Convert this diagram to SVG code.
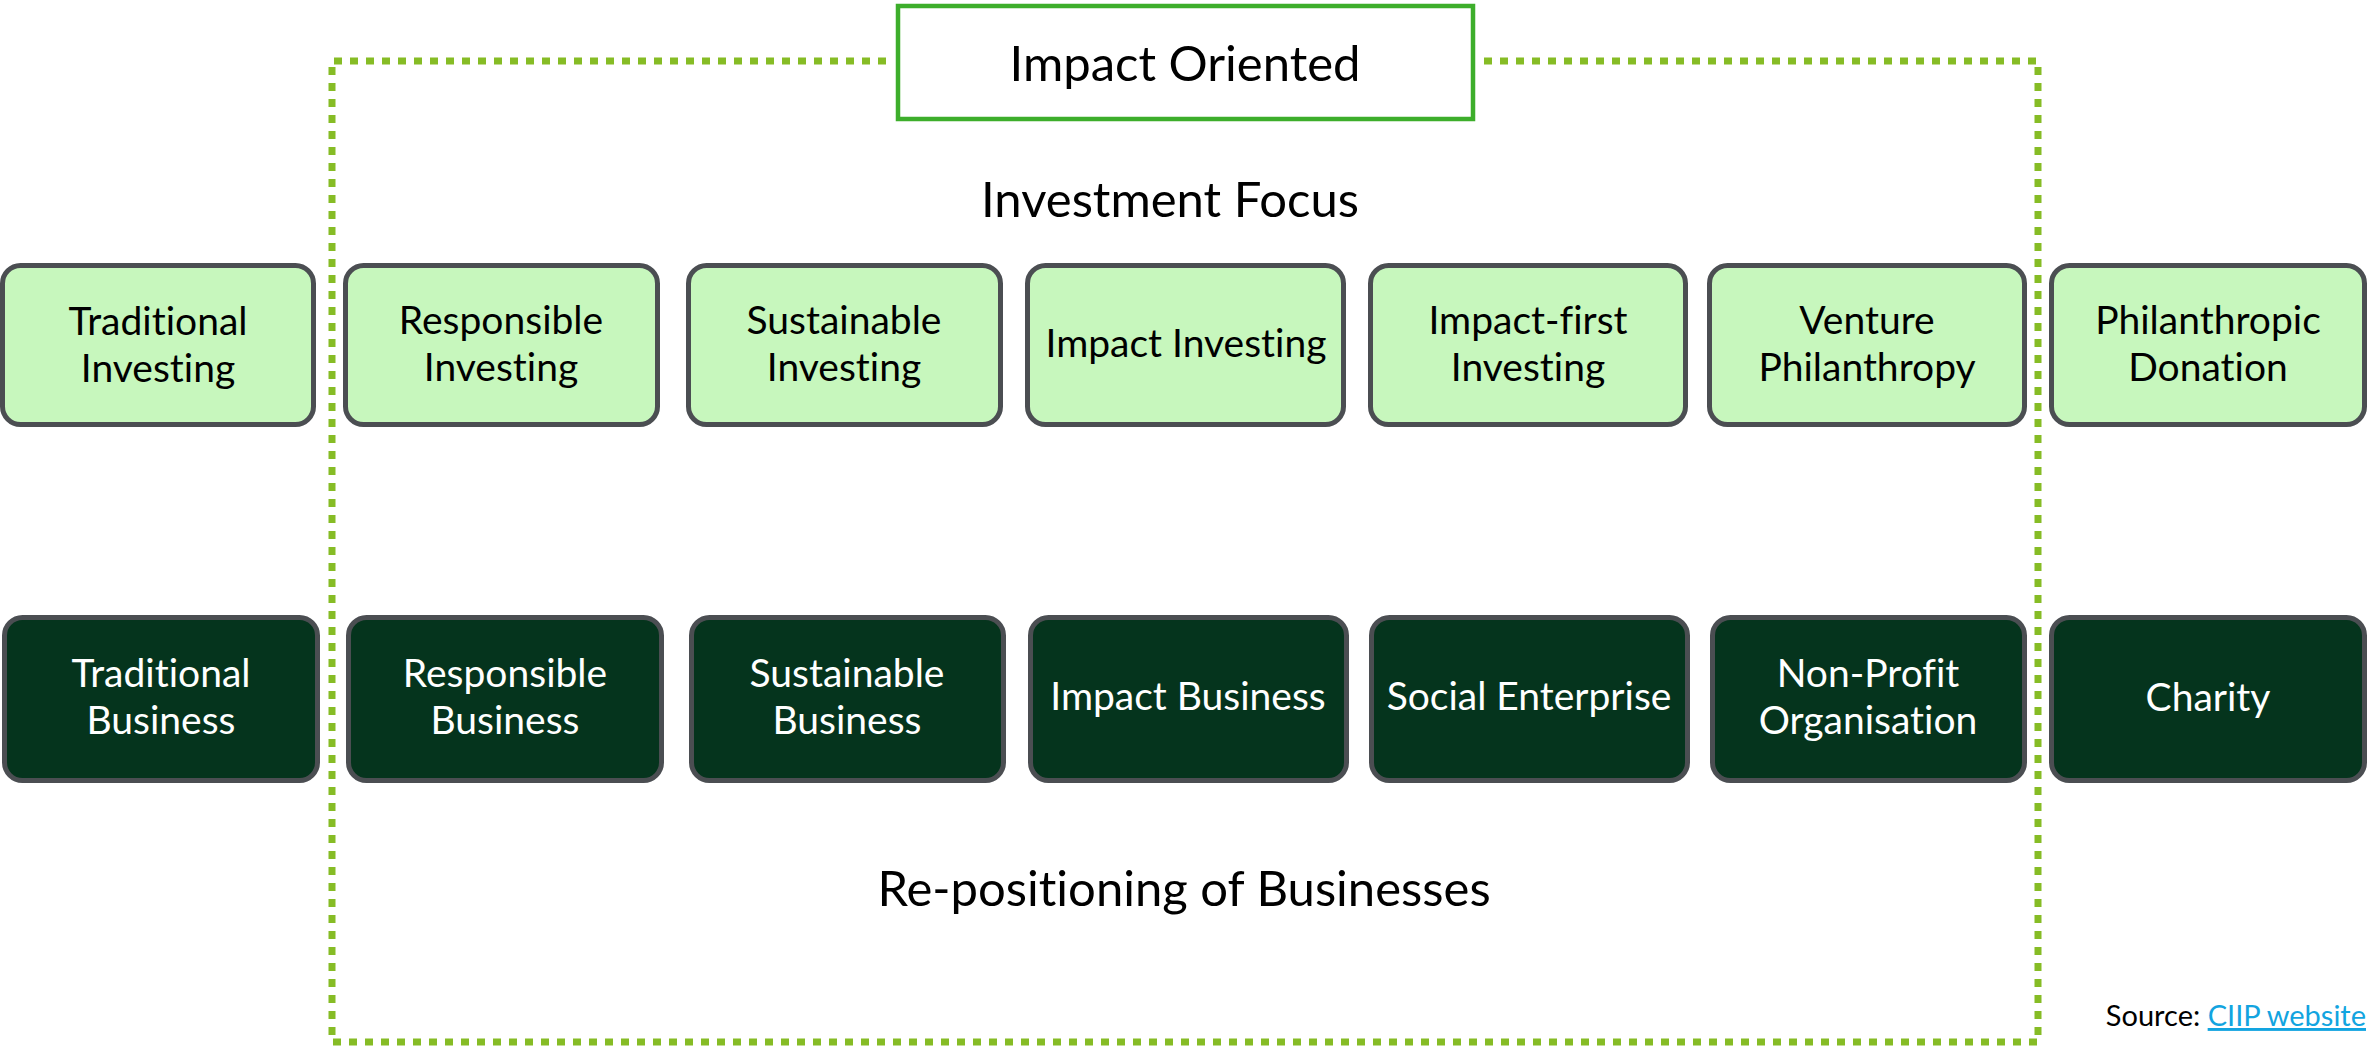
<svg xmlns="http://www.w3.org/2000/svg" width="2369" height="1048" viewBox="0 0 2369 1048">
<style>
text { font-family: Lato, "Liberation Sans", sans-serif; text-anchor: middle; font-variant-ligatures: none; }
.light rect { fill: #c7f7bd; stroke: #4b4e52; stroke-width: 5; }
.dark rect { fill: #05341d; stroke: #4b4e52; stroke-width: 5; }
.light text { fill: #000; font-size: 39px; }
.dark text { fill: #fff; font-size: 39px; }
.title { fill: #000; font-size: 49px; }
.frame { fill: none; stroke: #86bc25; stroke-width: 7; stroke-dasharray: 8 8; }
</style>
<rect width="2369" height="1048" fill="#fff"/>
<g id="connectors">
  <path class="frame" d="M 886 61 H 332 V 1042 H 2038 V 61 H 1484"/>
</g>
<g id="impact-oriented">
  <rect x="898" y="6" width="575" height="113" fill="#fff" stroke="#3dae2b" stroke-width="4.5"/>
  <text class="title" x="1185" y="81">Impact Oriented</text>
</g>
<g id="investment-focus"><text class="title" x="1170" y="217">Investment Focus</text></g>
<g id="repositioning"><text class="title" x="1184" y="906">Re-positioning of Businesses</text></g>

<g id="traditional-investing" class="light"><rect x="2.5" y="265.5" width="311" height="159" rx="18"/><text x="158" y="335">Traditional</text><text x="158" y="382">Investing</text></g>
<g id="responsible-investing" class="light"><rect x="345.5" y="265.5" width="312" height="159" rx="18"/><text x="501" y="334">Responsible</text><text x="501" y="381">Investing</text></g>
<g id="sustainable-investing" class="light"><rect x="688.5" y="265.5" width="312" height="159" rx="18"/><text x="844" y="334">Sustainable</text><text x="844" y="381">Investing</text></g>
<g id="impact-investing" class="light"><rect x="1027.5" y="265.5" width="316" height="159" rx="18"/><text x="1186" y="357">Impact Investing</text></g>
<g id="impact-first-investing" class="light"><rect x="1370.5" y="265.5" width="315" height="159" rx="18"/><text x="1528" y="334">Impact-first</text><text x="1528" y="381">Investing</text></g>
<g id="venture-philanthropy" class="light"><rect x="1709.5" y="265.5" width="315" height="159" rx="18"/><text x="1867" y="334">Venture</text><text x="1867" y="381">Philanthropy</text></g>
<g id="philanthropic-donation" class="light"><rect x="2051.5" y="265.5" width="313" height="159" rx="18"/><text x="2208" y="334">Philanthropic</text><text x="2208" y="381">Donation</text></g>

<g id="traditional-business" class="dark"><rect x="4.5" y="617.5" width="313" height="163" rx="18"/><text x="161" y="687">Traditional</text><text x="161" y="734">Business</text></g>
<g id="responsible-business" class="dark"><rect x="348.5" y="617.5" width="313" height="163" rx="18"/><text x="505" y="687">Responsible</text><text x="505" y="734">Business</text></g>
<g id="sustainable-business" class="dark"><rect x="691.5" y="617.5" width="312" height="163" rx="18"/><text x="847" y="687">Sustainable</text><text x="847" y="734">Business</text></g>
<g id="impact-business" class="dark"><rect x="1030.5" y="617.5" width="316" height="163" rx="18"/><text x="1188" y="710">Impact Business</text></g>
<g id="social-enterprise" class="dark"><rect x="1371.5" y="617.5" width="316" height="163" rx="18"/><text x="1529" y="710">Social Enterprise</text></g>
<g id="non-profit-organisation" class="dark"><rect x="1712.5" y="617.5" width="312" height="163" rx="18"/><text x="1868" y="687">Non-Profit</text><text x="1868" y="734">Organisation</text></g>
<g id="charity" class="dark"><rect x="2051.5" y="617.5" width="313" height="163" rx="18"/><text x="2208" y="711">Charity</text></g>

<g id="source">
  <text x="2366" y="1026" style="text-anchor:end;font-size:29px"><tspan fill="#000">Source: </tspan><tspan fill="#12a4e0" text-decoration="underline">CIIP website</tspan></text>
</g>
</svg>
